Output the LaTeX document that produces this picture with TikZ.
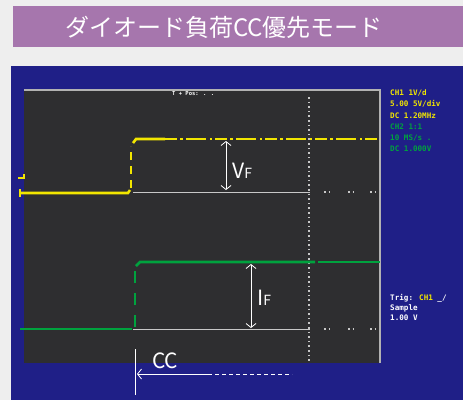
\documentclass[tikz,border=0pt]{standalone}
\usepackage{fontspec}
\newfontfamily\jpfont{Noto Sans CJK JP}
\newfontfamily\scopefont{DejaVu Sans Mono}
\usetikzlibrary{arrows.meta,positioning}

\definecolor{pagebg}{HTML}{EEEEEE}
\definecolor{titlebar}{HTML}{A676AD}
\definecolor{panelblue}{HTML}{1F1F87}
\definecolor{screen}{HTML}{2E2E30}
\definecolor{traceyellow}{HTML}{F2E600}
\definecolor{tracegreen}{HTML}{00A23E}
\definecolor{gridgray}{HTML}{C8C8C8}

\tikzset{
  labeltext/.style={text=white,font=\jpfont,inner sep=0pt},
  readout/.style={font=\scopefont\bfseries\fontsize{7.6}{7.6}\selectfont,inner sep=0pt,anchor=west},
  trace/.style={line width=2.6pt},
  baseline/.style={gridgray,line width=1pt},
  griddots/.style={gridgray,line width=1.6pt,dash pattern=on 1.6pt off 3pt},
  markarrow/.style={white,line width=0.8pt},
  barb/.tip={Straight Barb[length=4pt,width=10pt]}
}

\begin{document}
\begin{tikzpicture}[x=1pt,y=-1pt]
	\useasboundingbox (0,0) rectangle (463,400);
	\fill[pagebg] (0,0) rectangle (463,400);
	\fill[titlebar] (13,6) rectangle (463,47);
	\node[labeltext,font=\jpfont\fontsize{24}{24}\selectfont] (title) at (224,27) {ダイオード負荷CC優先モード};

	\fill[panelblue] (11,66) rectangle (463,400);
	\fill[screen] (24,89) rectangle (380,363);
	\draw[gray!60,line width=2pt] (24,90) -- (380,90) -- (380,363);
	\node[readout,text=white,font=\scopefont\bfseries\fontsize{5.5}{5.5}\selectfont] (status) at (172,94) {T + Pos: . .};

	\draw[griddots] (309,97) -- (309,362);
	\draw[baseline] (133,192) -- (310,192);
	\draw[baseline] (133,329) -- (310,329);
	\foreach \x in {327,351,373} {
		\draw[griddots] (\x-3,192) -- (\x+3,192);
		\draw[griddots] (\x-3,329) -- (\x+3,329);
	}

	\draw[traceyellow,line width=1.5pt] (18,178) -- (24,178) -- (24,174);
	\draw[traceyellow,line width=1.5pt] (20,189) -- (20,197);
	\draw[traceyellow,trace] (20,193) -- (128,193) -- (130,190);
	\draw[traceyellow,trace,dash pattern=on 8pt off 6pt] (131,188) -- (131,146);
	\draw[traceyellow,trace] (133,143) -- (136,139) -- (165,139);
	\draw[traceyellow,line width=2pt,dash pattern=on 12pt off 3pt on 3pt off 3pt on 20pt off 4pt on 2pt off 3pt] (165,139) -- (380,139);

	\draw[tracegreen,trace] (20,329) -- (132,329);
	\draw[tracegreen,trace,dash pattern=on 12pt off 10pt] (135,327) -- (135,268);
	\draw[tracegreen,trace] (136,266) -- (140,262) -- (315,262);
	\draw[tracegreen,trace] (318,262) -- (380,262);

	\coordinate (vtop) at (226,141);
	\coordinate (vbot) at (226,190);
	\draw[markarrow,barb-barb] (vtop) -- (vbot);
	\node[labeltext,anchor=base west] (vf) at (232,178) {\fontsize{21}{21}\selectfont V\fontsize{14}{14}\selectfont F};

	\coordinate (itop) at (251,264);
	\coordinate (ibot) at (251,328);
	\draw[markarrow,barb-barb] (itop) -- (ibot);
	\node[labeltext,anchor=base west] (if) at (257,305) {\fontsize{21}{21}\selectfont I\fontsize{14}{14}\selectfont F};

	\coordinate (cctop) at (135,349);
	\coordinate (ccbot) at (135,395);
	\draw[markarrow] (cctop) -- (ccbot);
	\coordinate (ccmid) at (208,374);
	\coordinate (cctip) at (137,374);
	\coordinate (ccend) at (292,374);
	\draw[markarrow,-barb] (ccmid) -- (cctip);
	\draw[markarrow,dash pattern=on 4pt off 3pt] (ccmid) -- (ccend);
	\node[labeltext,anchor=base west] (cc) at (152,368) {\fontsize{21}{21}\selectfont CC};

	\node[readout,text=traceyellow] (r1) at (390,93) {CH1 1V/d};
	\node[readout,text=traceyellow] (r2) at (390,104) {5.00 5V/div};
	\node[readout,text=traceyellow] (r3) at (390,116) {DC  1.20MHz};
	\node[readout,text=tracegreen] (r4) at (390,127) {CH2 1:1};
	\node[readout,text=tracegreen] (r5) at (390,138) {10 MS/s .};
	\node[readout,text=tracegreen] (r6) at (390,149) {DC  1.000V};

	\node[readout,text=white] (t1) at (390,298) {Trig: \textcolor{traceyellow}{CH1} \_/};
	\node[readout,text=white] (t2) at (390,308) {Sample};
	\node[readout,text=white] (t3) at (390,318) {1.00 V};
\end{tikzpicture}
\end{document}
